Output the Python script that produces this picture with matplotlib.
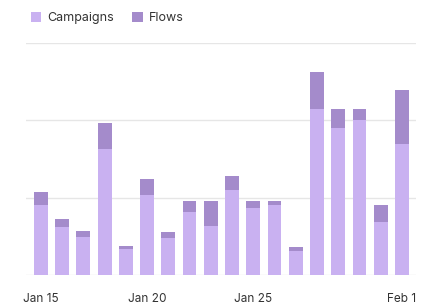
import matplotlib.pyplot as plt
from matplotlib.patches import Patch
import numpy as np

plt.rcParams['font.family'] = ['Inter', 'DejaVu Sans']

# daily values, Jan 15 .. Feb 1
days = ['Jan 15', 'Jan 16', 'Jan 17', 'Jan 18', 'Jan 19', 'Jan 20', 'Jan 21', 'Jan 22', 'Jan 23',
        'Jan 24', 'Jan 25', 'Jan 26', 'Jan 27', 'Jan 28', 'Jan 29', 'Jan 30', 'Jan 31', 'Feb 1']
campaigns = [90, 62, 49, 163, 34, 104, 48, 81, 64, 110, 86, 91, 31, 214, 190, 200, 69, 170]
flows = [17, 10, 8, 34, 3, 20, 7, 15, 32, 18, 10, 5, 5, 49, 24, 14, 22, 69]
tick_days = ['Jan 15', 'Jan 20', 'Jan 25', 'Feb 1']

camp_color = '#c9b1f1'
flow_color = '#a48bcb'

fig = plt.figure(figsize=(4.34, 3.04), dpi=100)
ax = fig.add_axes([0.060, 0.0954, 0.8985, 0.7632])

x = np.arange(len(days))
ax.bar(x, campaigns, width=0.65, color=camp_color, zorder=3)
ax.bar(x, flows, width=0.65, bottom=campaigns, color=flow_color, zorder=3)

ax.set_xlim(-0.7, len(days) - 1 + 0.66)
ax.set_ylim(0, 300)
ax.set_yticks([0, 100, 200, 300])
ax.yaxis.grid(True, color='#e6e6e6', linewidth=1)
ax.tick_params(axis='y', length=0, labelleft=False)

ax.set_xticks([days.index(d) for d in tick_days])
ax.set_xticklabels(tick_days, fontsize=8.5, color='#333333')
ax.tick_params(axis='x', length=0, pad=13)

for s in ax.spines.values():
    s.set_visible(False)

handles = [Patch(facecolor=camp_color, label='Campaigns'),
           Patch(facecolor=flow_color, label='Flows')]
fig.legend(handles=handles, loc='upper left', bbox_to_anchor=(0.045, 0.997), ncol=2,
           frameon=False, fontsize=9, handlelength=0.85, handleheight=0.85,
           handletextpad=0.5, columnspacing=1.4, labelcolor='#333333')

fig.savefig('out.png', dpi=100)
